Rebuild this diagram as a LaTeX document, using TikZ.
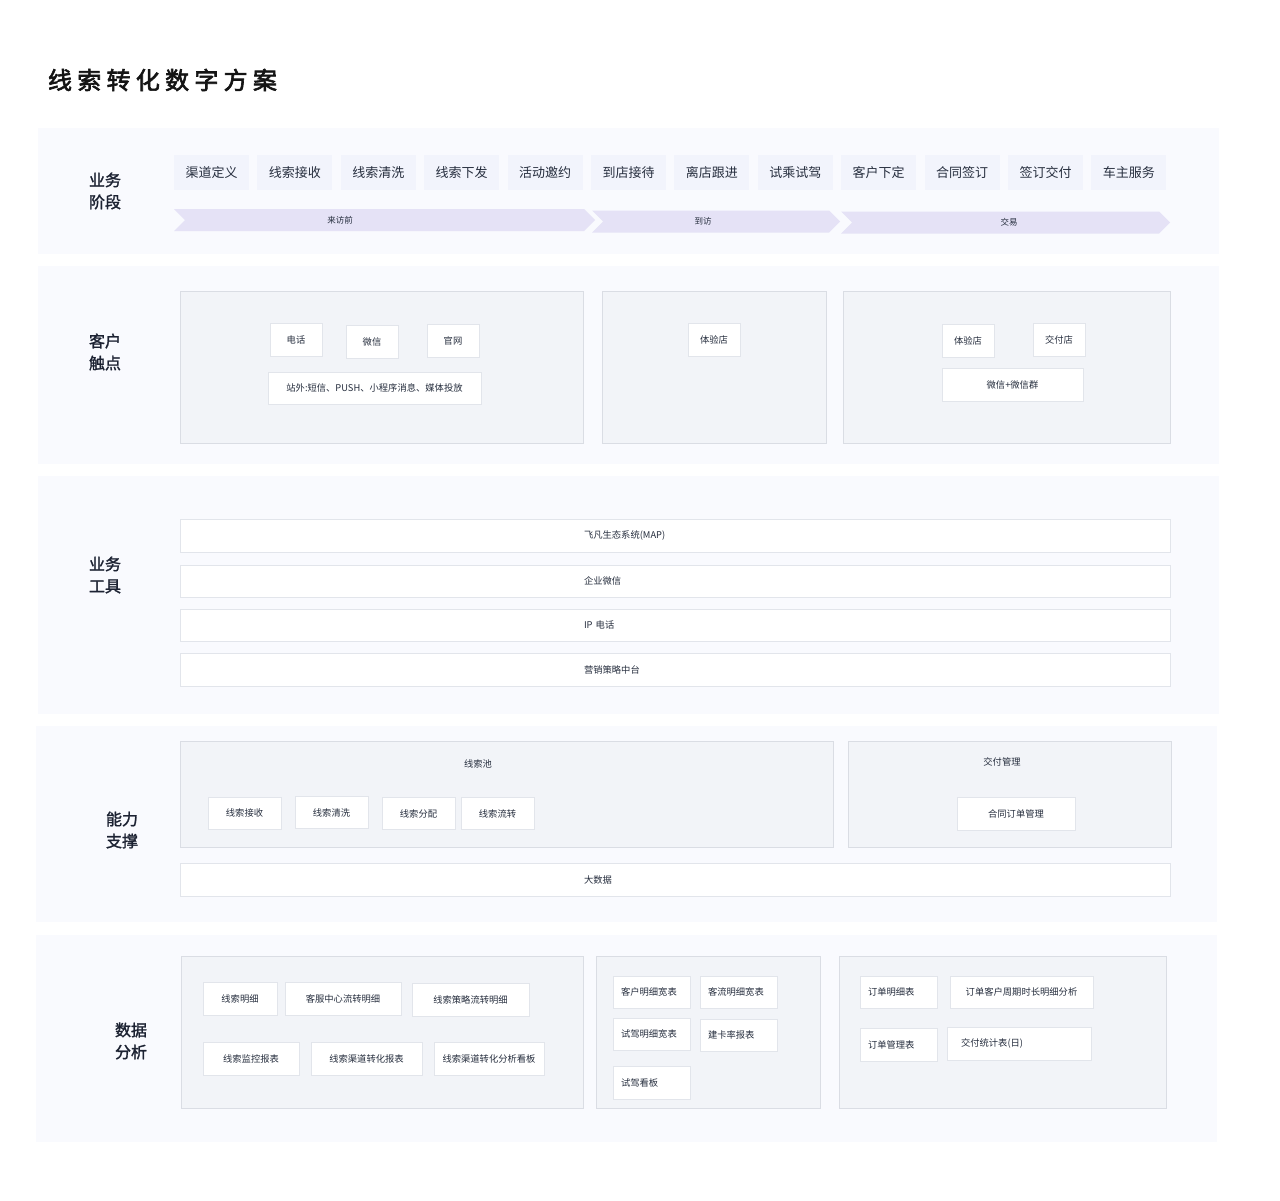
\documentclass[tikz,border=0pt]{standalone}
\usepackage{fontspec}
\setmainfont{Noto Sans CJK SC}
\newfontfamily\titlefont{Noto Sans CJK SC}[LetterSpace=22, UprightFeatures={FakeBold=2.6}]
\newfontfamily\labelfont{Noto Sans CJK SC}[UprightFeatures={FakeBold=1.6}]
\usetikzlibrary{positioning, fit, shapes.symbols}

\definecolor{secbg}{RGB}{249,250,254}
\definecolor{stagebg}{RGB}{242,244,252}
\definecolor{phasebg}{RGB}{229,226,246}
\definecolor{panelbg}{RGB}{242,244,248}
\definecolor{panelline}{RGB}{218,221,228}
\definecolor{itemline}{RGB}{226,229,235}
\definecolor{darktext}{RGB}{38,46,62}
\definecolor{labeltext}{RGB}{28,34,50}

\tikzset{
	every node/.append style={
		outer sep=0pt,
	},
	section/.append style={
		fill=secbg,
		draw=none,
		inner sep=0pt,
	},
	seclabel/.append style={
		align = center,
		text=labeltext,
		font={\labelfont\fontsize{16}{22}\selectfont}
	},
	stage/.append style={
		fill=stagebg,
		minimum width=75pt,
		minimum height=35pt,
		text=darktext,
		font={\fontsize{13}{15}\selectfont}
	},
	phase/.append style={
		signal, signal from=west, signal to=east,
		signal pointer angle=90,
		fill=phasebg,
		minimum height=22pt,
		inner sep=0pt,
	},
	phaselabel/.append style={
		text=darktext,
		inner sep=0pt,
		font={\fontsize{8.5}{10}\selectfont}
	},
	panel/.append style={
		fill=panelbg,
		draw=panelline,
		line width=0.8pt,
		inner sep=0pt,
	},
	paneltitle/.append style={
		text=darktext,
		font={\fontsize{9.3}{11}\selectfont}
	},
	item/.append style={
		fill=white,
		draw=itemline,
		line width=0.8pt,
		minimum height=33pt,
		text=darktext,
		font={\fontsize{9.3}{11}\selectfont}
	},
	itemleft/.append style={
		item,
		align = left,
		inner xsep=8pt,
		text width=#1,
	},
	toolbar/.append style={
		item,
		align = left,
		minimum width=990pt,
		inner xsep=404pt,
		text width=182pt,
	}
}

\begin{document}
\begin{tikzpicture}[x=1pt, y=-1pt, node distance=8.4pt]
\useasboundingbox (0,0) rectangle (1280,1200);
\fill[white] (0,0) rectangle (1280,1200);

\node(title)[anchor=west, inner sep=0pt, text=black!92] at (48,80){\titlefont\fontsize{24}{28}\selectfont 线索转化数字方案};

% sections
\node(secstage)[section, fit={(38,128) (1219,254)}]{};
\node(sectouch)[section, fit={(38,266) (1219,464)}]{};
\node(sectool)[section, fit={(38,476) (1219,714)}]{};
\node(secability)[section, fit={(36,726) (1217,922)}]{};
\node(secdata)[section, fit={(36,935) (1217,1142)}]{};

\node(lblstage)[seclabel] at (105,191){业务\\阶段};
\node(lbltouch)[seclabel] at (105,352){客户\\触点};
\node(lbltool)[seclabel] at (105,575){业务\\工具};
\node(lblability)[seclabel] at (122,830){能力\\支撑};
\node(lbldata)[seclabel] at (131,1041){数据\\分析};

% business stages
\node(s1)[stage] at (211.5,172.5){渠道定义};
\node(s2)[stage, right=of s1]{线索接收};
\node(s3)[stage, right=of s2]{线索清洗};
\node(s4)[stage, right=of s3]{线索下发};
\node(s5)[stage, right=of s4]{活动邀约};
\node(s6)[stage, right=of s5]{到店接待};
\node(s7)[stage, right=of s6]{离店跟进};
\node(s8)[stage, right=of s7]{试乘试驾};
\node(s9)[stage, right=of s8]{客户下定};
\node(s10)[stage, right=of s9]{合同签订};
\node(s11)[stage, right=of s10]{签订交付};
\node(s12)[stage, right=of s11]{车主服务};

\node(before)[phase, minimum width=421pt, label={[phaselabel, xshift=-44.5pt]center:来访前}] at (384.5,220){};
\node(visit)[phase, minimum width=248pt, label={[phaselabel, xshift=-13pt]center:到访}] at (716,221.5){};
\node(deal)[phase, minimum width=329pt, label={[phaselabel, xshift=3.5pt]center:交易}] at (1005.5,222.5){};

% customer touch points
\node(tpremote)[panel, fit={(180,291) (583,443)}]{};
\node(tpvisit)[panel, fit={(602,291) (826,443)}]{};
\node(tpdeal)[panel, fit={(843,291) (1170,443)}]{};

\node(tel)[item, minimum width=52pt] at (296,339.5){电话};
\node(wechat)[item, minimum width=52pt] at (372,341.5){微信};
\node(web)[item, minimum width=52pt] at (453,340.5){官网};
\node(offsite)[item, minimum width=213pt, minimum height=32pt] at (374.5,388){站外:短信、PUSH、小程序消息、媒体投放};
\node(store1)[item, minimum width=52pt] at (714,339.5){体验店};
\node(store2)[item, minimum width=52pt] at (968,340.5){体验店};
\node(delivstore)[item, minimum width=52pt] at (1059,339.5){交付店};
\node(wxgroup)[item, minimum width=141pt] at (1012.5,384.5){微信+微信群};

% business tools
\node(map)[toolbar] at (675,535.5){飞凡生态系统(MAP)};
\node(qywx)[toolbar, minimum height=32pt] at (675,581){企业微信};
\node(ipcall)[toolbar, minimum height=32pt] at (675,625){IP 电话};
\node(mkt)[toolbar] at (675,669.5){营销策略中台};

% ability support
\node(pool)[panel, fit={(180,741) (833,847)}]{};
\node(delivmgmt)[panel, fit={(848,741) (1171,847)}]{};
\node(pooltitle)[paneltitle] at (478,764){线索池};
\node(delivtitle)[paneltitle] at (1002,762){交付管理};

\node(recv)[item, minimum width=73pt, minimum height=32pt] at (244.5,813){线索接收};
\node(clean)[item, minimum width=73pt, minimum height=32pt] at (331.5,812.5){线索清洗};
\node(assign)[item, minimum width=73pt, minimum height=32pt] at (418.5,813.5){线索分配};
\node(flow)[item, minimum width=73pt, minimum height=32pt] at (497.5,813.5){线索流转};
\node(contract)[item, minimum width=118pt] at (1016,813.5){合同订单管理};

\node(bigdata)[toolbar] at (675,879.5){大数据};

% data analysis
\node(dlead)[panel, fit={(181,956) (583,1108)}]{};
\node(dvisit)[panel, fit={(596,956) (820,1108)}]{};
\node(dorder)[panel, fit={(839,956) (1166,1108)}]{};

\node(leaddetail)[item, minimum width=74pt] at (240,998.5){线索明细};
\node(csflow)[item, minimum width=116pt] at (343,999){客服中心流转明细};
\node(stratflow)[item, minimum width=117pt] at (470.5,999.5){线索策略流转明细};
\node(monitor)[item, minimum width=96pt] at (251,1058.5){线索监控报表};
\node(chanreport)[item, minimum width=111pt] at (366.5,1058.5){线索渠道转化报表};
\node(chanboard)[item, minimum width=110pt] at (489,1058.5){线索渠道转化分析看板};

\node(custwide)[itemleft=61pt, minimum width=77pt, minimum height=32pt] at (651.5,992){客户明细宽表};
\node(trafwide)[itemleft=61pt, minimum width=77pt, minimum height=32pt] at (738.5,992){客流明细宽表};
\node(drivewide)[itemleft=61pt, minimum width=77pt, minimum height=32pt] at (651.5,1034){试驾明细宽表};
\node(cardrate)[itemleft=61pt, minimum width=77pt, minimum height=32pt] at (738.5,1035){建卡率报表};
\node(driveboard)[itemleft=61pt, minimum width=77pt] at (651.5,1082.5){试驾看板};

\node(orderdetail)[itemleft=61pt, minimum width=77pt, minimum height=32pt] at (898.5,992){订单明细表};
\node(ordercycle)[item, minimum width=143pt, minimum height=32pt] at (1021.5,992){订单客户周期时长明细分析};
\node(ordermgmt)[itemleft=61pt, minimum width=77pt] at (898.5,1044.5){订单管理表};
\node(delivstat)[itemleft=116pt, inner xsep=14pt, minimum width=144pt] at (1019,1043.5){交付统计表(日)};

\end{tikzpicture}
\end{document}
